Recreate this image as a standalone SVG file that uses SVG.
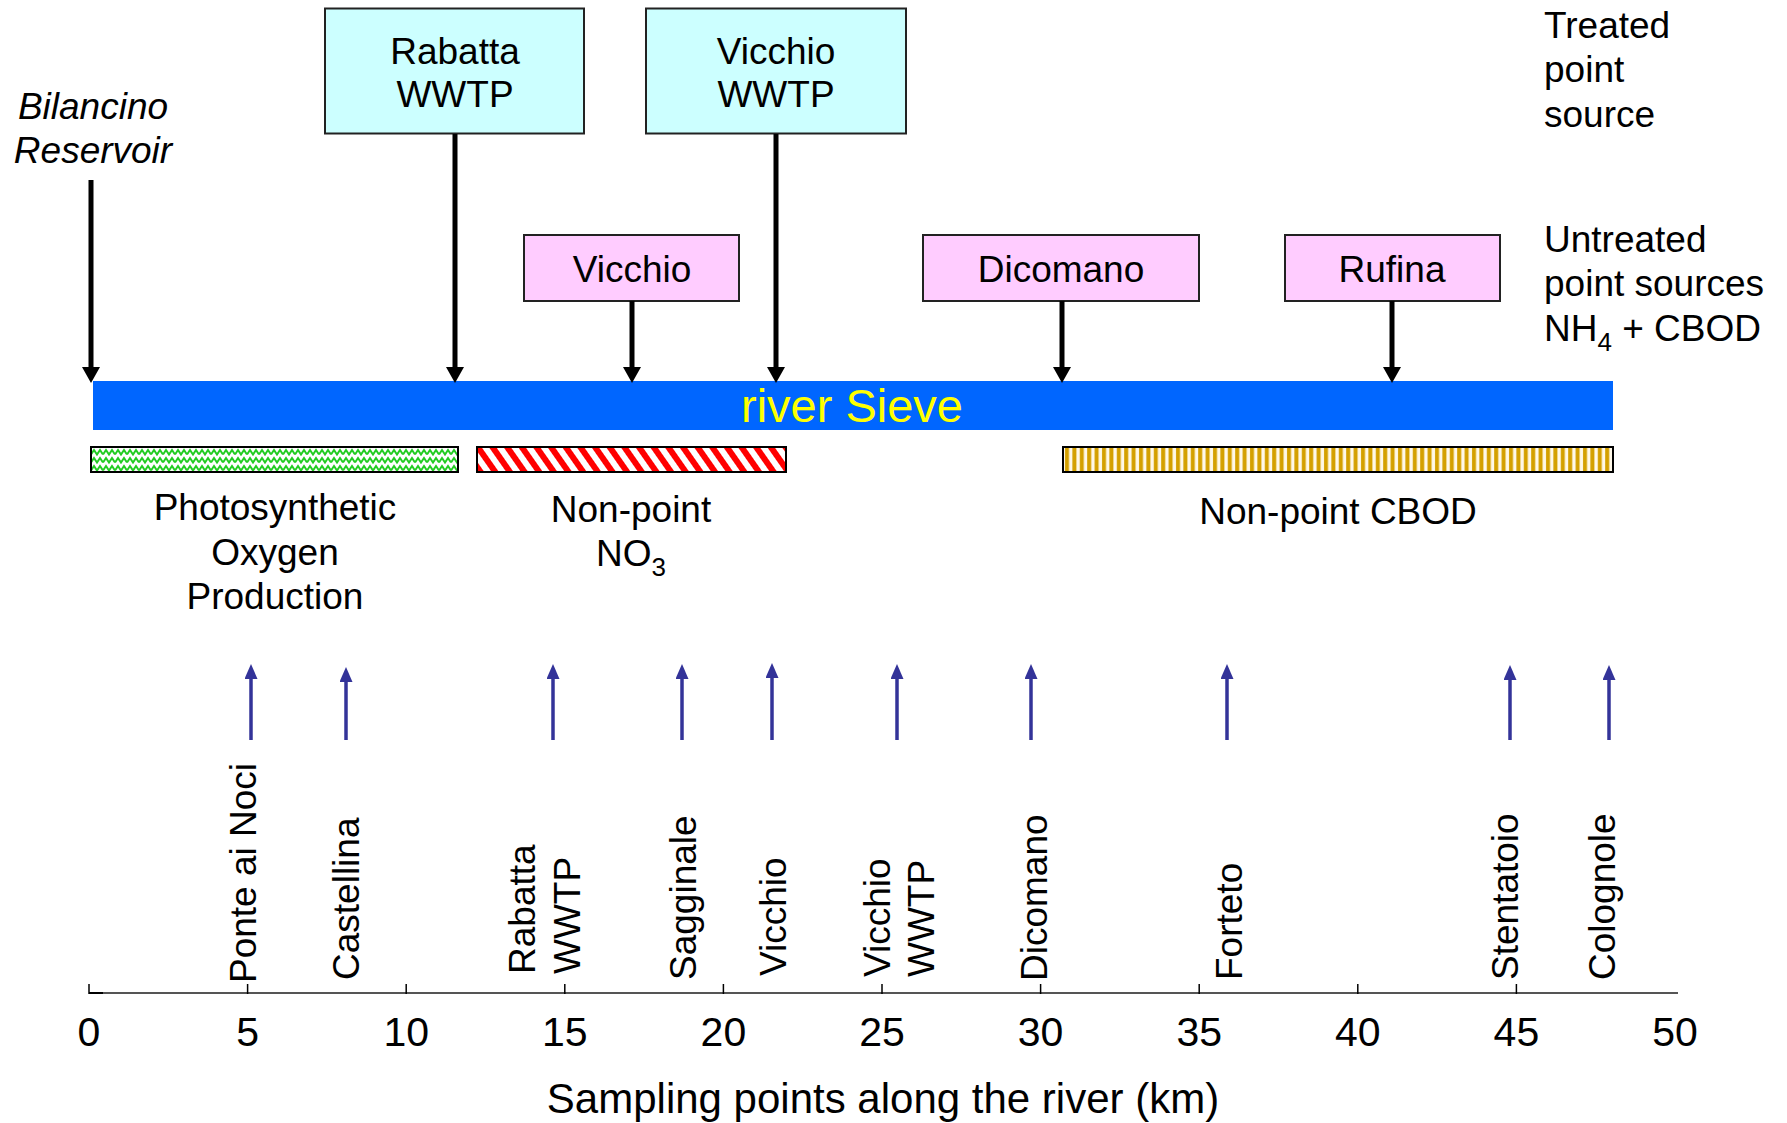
<svg xmlns="http://www.w3.org/2000/svg" width="1787" height="1123" viewBox="0 0 1787 1123">
<style>
text{font-family:"Liberation Sans",Arial,sans-serif;fill:#000}
.t{font-size:37px}
.c{text-anchor:middle}
.ax{font-size:41px;text-anchor:middle}
.box1{fill:#CCFFFF;stroke:#222;stroke-width:2}
.box2{fill:#FFCCFF;stroke:#222;stroke-width:2}
.blk{stroke:#000;stroke-width:5;fill:none;marker-end:url(#ah)}
.blu{stroke:#333399;stroke-width:3.5;fill:none;marker-end:url(#bh)}
.bar{stroke:#000;stroke-width:2}
.tick{stroke:#000;stroke-width:1.5}
</style>
<defs>
<marker id="ah" markerUnits="userSpaceOnUse" markerWidth="16" markerHeight="18" refX="4" refY="9" orient="auto">
<path d="M0,0 L16,9 L0,18 z" fill="#000"/>
</marker>
<marker id="bh" markerUnits="userSpaceOnUse" markerWidth="15" markerHeight="13" refX="5" refY="6.5" orient="auto">
<path d="M0,0 L15,6.5 L0,13 z" fill="#333399"/>
</marker>
<pattern id="zig" patternUnits="userSpaceOnUse" x="91" y="448" width="12" height="8">
<rect width="12" height="8" fill="#fff"/>
<polyline points="0,6.5 3,2 6,6.5 9,2 12,6.5" fill="none" stroke="#22CC22" stroke-width="2"/>
</pattern>
<pattern id="diag" patternUnits="userSpaceOnUse" width="12" height="12" patternTransform="rotate(-35)">
<rect width="12" height="12" fill="#fff"/>
<rect width="6" height="12" fill="#FF0000"/>
</pattern>
<pattern id="vert" patternUnits="userSpaceOnUse" x="1064" width="7.4" height="10">
<rect width="7.4" height="10" fill="#FFF8E8"/>
<rect x="1" width="4" height="10" fill="#D4A000"/>
</pattern>
</defs>

<g id="bilancino">
<text class="t c" x="93" y="119" font-style="italic">Bilancino</text>
<text class="t c" x="93" y="163" font-style="italic">Reservoir</text>
</g>

<g id="rabatta-wwtp">
<rect class="box1" x="325" y="8.5" width="259" height="125"/>
<text class="t c" x="455" y="64">Rabatta</text>
<text class="t c" x="455" y="107">WWTP</text>
</g>

<g id="vicchio-wwtp">
<rect class="box1" x="646" y="8.5" width="260" height="125"/>
<text class="t c" x="776" y="64">Vicchio</text>
<text class="t c" x="776" y="107">WWTP</text>
</g>

<g id="vicchio">
<rect class="box2" x="524" y="235" width="215" height="66"/>
<text class="t c" x="632" y="282">Vicchio</text>
</g>

<g id="dicomano">
<rect class="box2" x="923" y="235" width="276" height="66"/>
<text class="t c" x="1061" y="282">Dicomano</text>
</g>

<g id="rufina">
<rect class="box2" x="1285" y="235" width="215" height="66"/>
<text class="t c" x="1392" y="282">Rufina</text>
</g>

<g id="legend-treated">
<text class="t" x="1544" y="38">Treated</text>
<text class="t" x="1544" y="82">point</text>
<text class="t" x="1544" y="127">source</text>
</g>

<g id="legend-untreated">
<text class="t" x="1544" y="252">Untreated</text>
<text class="t" x="1544" y="296">point sources</text>
<text class="t" x="1544" y="341">NH<tspan font-size="26" dy="10">4</tspan><tspan dy="-10"> + CBOD</tspan></text>
</g>

<g id="river">
<rect x="93" y="381" width="1520" height="49" fill="#0066FF"/>
<text x="852" y="422" font-size="47" text-anchor="middle" style="fill:#FFFF00">river Sieve</text>
</g>

<g id="photosynthetic">
<rect class="bar" x="91" y="447" width="367" height="25" fill="url(#zig)"/>
<text class="t c" x="275" y="520">Photosynthetic</text>
<text class="t c" x="275" y="565">Oxygen</text>
<text class="t c" x="275" y="609">Production</text>
</g>

<g id="nonpoint-no3">
<rect class="bar" x="477" y="447" width="309" height="25" fill="url(#diag)"/>
<text class="t c" x="631" y="522">Non-point</text>
<text class="t c" x="631" y="566">NO<tspan font-size="26" dy="10">3</tspan></text>
</g>

<g id="nonpoint-cbod">
<rect class="bar" x="1063" y="447" width="550" height="25" fill="url(#vert)"/>
<text class="t c" x="1338" y="524">Non-point CBOD</text>
</g>

<g id="connectors">
<line class="blk" x1="91" y1="180" x2="91" y2="371"/>
<line class="blk" x1="455" y1="134" x2="455" y2="371"/>
<line class="blk" x1="776" y1="134" x2="776" y2="371"/>
<line class="blk" x1="632" y1="301" x2="632" y2="371"/>
<line class="blk" x1="1062" y1="301" x2="1062" y2="371"/>
<line class="blk" x1="1392" y1="301" x2="1392" y2="371"/>
<line class="blu" x1="251" y1="740" x2="251" y2="674"/>
<line class="blu" x1="346" y1="740" x2="346" y2="677"/>
<line class="blu" x1="553" y1="740" x2="553" y2="674"/>
<line class="blu" x1="682" y1="740" x2="682" y2="674"/>
<line class="blu" x1="772" y1="740" x2="772" y2="673"/>
<line class="blu" x1="897" y1="740" x2="897" y2="674"/>
<line class="blu" x1="1031" y1="740" x2="1031" y2="674"/>
<line class="blu" x1="1227" y1="740" x2="1227" y2="674"/>
<line class="blu" x1="1510" y1="740" x2="1510" y2="675"/>
<line class="blu" x1="1609" y1="740" x2="1609" y2="675"/>
</g>

<g id="stations" class="t">
<text class="t" transform="translate(256,983) rotate(-90)">Ponte ai Noci</text>
<text class="t" transform="translate(359,980) rotate(-90)">Castellina</text>
<text class="t" transform="translate(535,974) rotate(-90)">Rabatta</text>
<text class="t" transform="translate(580,974) rotate(-90)">WWTP</text>
<text class="t" transform="translate(696,980) rotate(-90)">Sagginale</text>
<text class="t" transform="translate(786,976) rotate(-90)">Vicchio</text>
<text class="t" transform="translate(890,977) rotate(-90)">Vicchio</text>
<text class="t" transform="translate(934,977) rotate(-90)">WWTP</text>
<text class="t" transform="translate(1047,981) rotate(-90)">Dicomano</text>
<text class="t" transform="translate(1242,980) rotate(-90)">Forteto</text>
<text class="t" transform="translate(1518,980) rotate(-90)">Stentatoio</text>
<text class="t" transform="translate(1615,980) rotate(-90)">Colognole</text>
</g>

<g id="axis">
<line x1="89" y1="993" x2="1678" y2="993" stroke="#555" stroke-width="2"/>
<line x1="89" y1="993" x2="103" y2="993" stroke="#000" stroke-width="2"/>
<line class="tick" x1="89" y1="984" x2="89" y2="994"/>
<line class="tick" x1="247.6" y1="984" x2="247.6" y2="994"/>
<line class="tick" x1="406.2" y1="984" x2="406.2" y2="994"/>
<line class="tick" x1="564.8" y1="984" x2="564.8" y2="994"/>
<line class="tick" x1="723.4" y1="984" x2="723.4" y2="994"/>
<line class="tick" x1="882" y1="984" x2="882" y2="994"/>
<line class="tick" x1="1040.6" y1="984" x2="1040.6" y2="994"/>
<line class="tick" x1="1199.2" y1="984" x2="1199.2" y2="994"/>
<line class="tick" x1="1357.8" y1="984" x2="1357.8" y2="994"/>
<line class="tick" x1="1516.4" y1="984" x2="1516.4" y2="994"/>
<text class="ax" x="89" y="1046">0</text>
<text class="ax" x="247.6" y="1046">5</text>
<text class="ax" x="406.2" y="1046">10</text>
<text class="ax" x="564.8" y="1046">15</text>
<text class="ax" x="723.4" y="1046">20</text>
<text class="ax" x="882" y="1046">25</text>
<text class="ax" x="1040.6" y="1046">30</text>
<text class="ax" x="1199.2" y="1046">35</text>
<text class="ax" x="1357.8" y="1046">40</text>
<text class="ax" x="1516.4" y="1046">45</text>
<text class="ax" x="1675" y="1046">50</text>
<text x="883" y="1113" font-size="42" text-anchor="middle">Sampling points along the river (km)</text>
</g>
</svg>
